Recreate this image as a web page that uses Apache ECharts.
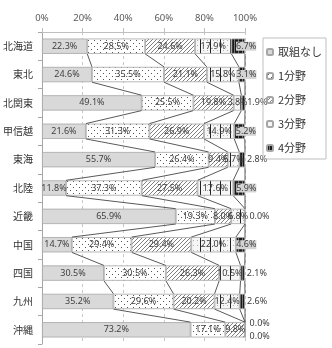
<!DOCTYPE html>
<html>
<head>
<meta charset="utf-8">
<script src="https://cdn.jsdelivr.net/npm/echarts@6/dist/echarts.min.js"></script>
<style>
  html, body { margin: 0; padding: 0; background: #fff; }
  #chart { width: 332px; height: 348px; }
</style>
</head>
<body>
<div id="chart"></div>
<script>
// 地域
var regions = ['北海道', '東北', '北関東', '甲信越', '東海', '北陸', '近畿', '中国', '四国', '九州', '沖縄'];
var seriesNames = ['取組なし', '1分野', '2分野', '3分野', '4分野'];
// 各分野の割合（%）
var none   = [22.3, 24.6, 49.1, 21.6, 55.7, 11.8, 65.9, 14.7, 30.5, 35.2, 73.2];
var field1 = [28.5, 35.5, 25.5, 31.3, 26.4, 37.3, 19.3, 29.4, 30.5, 29.6, 17.1];
var field2 = [24.6, 21.1, 19.8, 26.9,  9.4, 27.5,  8.0, 29.4, 26.3, 20.2,  9.8];
var field3 = [17.9, 15.8,  3.8, 14.9,  5.7, 17.6,  6.8, 22.0, 10.5, 12.4,  0.0];
var field4 = [ 6.7,  3.1,  1.9,  5.2,  2.8,  5.9,  0.0,  4.6,  2.1,  2.6,  0.0];
var xTicks = [0, 20, 40, 60, 80, 100];

var values = [none, field1, field2, field3, field4];

// 塗りパターン
function pattern(w, h, bg, draw) {
  var c = document.createElement('canvas');
  c.width = w; c.height = h;
  var ctx = c.getContext('2d');
  ctx.fillStyle = bg;
  ctx.fillRect(0, 0, w, h);
  draw(ctx);
  return { image: c, repeat: 'repeat' };
}
var fills = [
  '#d9d9d9',
  pattern(6, 6, '#ffffff', function (ctx) {
    ctx.fillStyle = '#555';
    ctx.fillRect(1, 1, 1, 1);
    ctx.fillRect(4, 4, 1, 1);
  }),
  pattern(4, 4, '#ffffff', function (ctx) {
    ctx.fillStyle = '#7f7f7f';
    ctx.fillRect(3, 0, 1, 1);
    ctx.fillRect(2, 1, 1, 1);
    ctx.fillRect(1, 2, 1, 1);
    ctx.fillRect(0, 3, 1, 1);
  }),
  pattern(10, 5, '#f6f6f6', function (ctx) {
    ctx.fillStyle = '#222';
    ctx.fillRect(0, 0, 1, 5);
    ctx.fillStyle = '#b0b0b0';
    ctx.fillRect(3, 0, 1, 1);
    ctx.fillRect(7, 0, 1, 1);
  }),
  pattern(4, 4, '#1a1a1a', function (ctx) {
    ctx.fillStyle = '#777';
    ctx.fillRect(2, 0, 1, 4);
  })
];

function labelFor(k, v, i) {
  if (k === 4) {
    if (v === 0) {
      return { position: 'right', distance: 4, offset: i === regions.length - 1 ? [0, 7] : [0, 0] };
    }
    if (v < 3) return { position: 'right', distance: 2 };
    return { position: 'right', distance: -9, backgroundColor: '#d4d4d4' };
  }
  if (k === 3 && v === 0) return { position: 'right', distance: 4, offset: [0, -6] };
  return { position: 'inside' };
}

var barRatio = 0.54;

var series = seriesNames.map(function (name, k) {
  return {
    name: name,
    type: 'bar',
    stack: 'total',
    clip: false,
    barWidth: (barRatio * 100) + '%',
    itemStyle: { color: fills[k], borderColor: '#a6a6a6', borderWidth: 0.8 },
    label: {
      show: true,
      fontSize: 9,
      color: '#404040',
      fontFamily: 'Noto Sans',
      formatter: function (p) { return p.value.toFixed(1) + '%'; }
    },
    data: values[k].map(function (v, i) {
      return { value: v, label: labelFor(k, v, i) };
    })
  };
});

// 区分線
series.push({
  type: 'custom',
  silent: true,
  z: 5,
  renderItem: function (params, api) {
    var i = params.dataIndex;
    var h = api.size([0, 1])[1] * barRatio / 2;
    var children = [];
    var c0 = 0, c1 = 0;
    for (var k = 0; k < values.length; k++) {
      c0 += values[k][i];
      c1 += values[k][i + 1];
      var p0 = api.coord([Math.min(c0, 100), i]);
      var p1 = api.coord([Math.min(c1, 100), i + 1]);
      children.push({
        type: 'line',
        shape: { x1: p0[0], y1: p0[1] + h, x2: p1[0], y2: p1[1] - h },
        style: { stroke: '#595959', lineWidth: 1 }
      });
    }
    return { type: 'group', children: children };
  },
  encode: { x: 0, y: 1 },
  data: regions.slice(0, -1).map(function (r, i) { return [0, i]; })
});

var chart = echarts.init(document.getElementById('chart'));
chart.setOption({
  animation: false,
  textStyle: { fontFamily: 'Noto Sans CJK JP' },
  grid: { left: 37, right: 87, top: 32, bottom: 4 },
  legend: {
    data: seriesNames,
    orient: 'vertical',
    right: 6,
    top: 38,
    padding: [8, 4, 5, 3],
    itemWidth: 6,
    itemHeight: 6,
    itemGap: 12,
    borderColor: '#bfbfbf',
    borderWidth: 1,
    textStyle: { fontSize: 11, color: '#333', lineHeight: 12 }
  },
  xAxis: {
    type: 'value',
    position: 'top',
    min: 0,
    max: 100,
    interval: 20,
    axisLine: { show: true, lineStyle: { color: '#bfbfbf' } },
    axisTick: { show: true, length: 4, lineStyle: { color: '#bfbfbf' } },
    axisLabel: {
      fontSize: 9.5, color: '#595959', margin: 9, fontFamily: 'Noto Sans',
      formatter: function (v) { return xTicks.indexOf(v) >= 0 ? v + '%' : ''; }
    },
    splitLine: { show: true, lineStyle: { color: '#c8c8c8', type: [3, 3] } }
  },
  yAxis: {
    type: 'category',
    inverse: true,
    data: regions,
    axisLine: { show: true, lineStyle: { color: '#a6a6a6' } },
    axisTick: { show: true, length: 4, lineStyle: { color: '#a6a6a6' } },
    axisLabel: { fontSize: 10, color: '#333', margin: 9 }
  },
  series: series
});
</script>
</body>
</html>
